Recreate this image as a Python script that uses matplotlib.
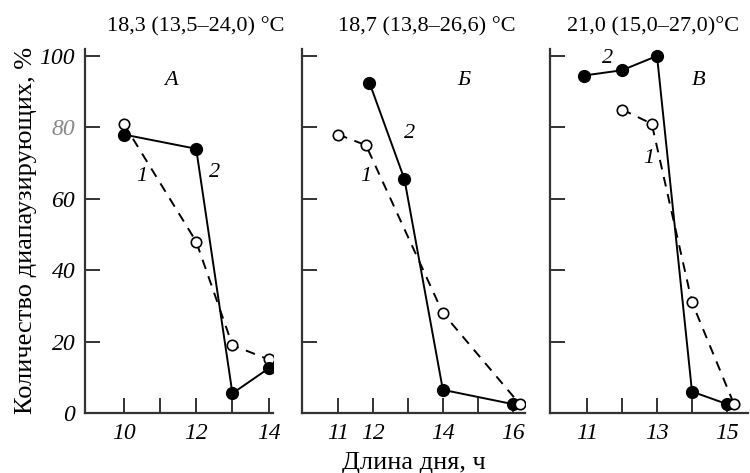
import matplotlib.pyplot as plt

plt.rcParams['font.family'] = ['Liberation Serif', 'DejaVu Serif']

# panel titles (mean and range of temperature)
titles = ['18,3 (13,5\u201324,0) \u00b0C', '18,7 (13,8\u201326,6) \u00b0C', '21,0 (15,0\u201327,0)\u00b0C']
panel_letters = ['А', 'Б', 'В']

# curve 1 (open circles, dashed)
x1_a = [10, 12, 13, 14]
y1_a = [81, 48, 19, 15]
x1_b = [11, 11.8, 14, 16.2]
y1_b = [78, 75, 28, 2.5]
x1_v = [12, 12.85, 14, 15.2]
y1_v = [85, 81, 31, 2.5]

# curve 2 (filled circles, solid)
x2_a = [10, 12, 13, 14]
y2_a = [78, 74, 5.5, 12.5]
x2_b = [11.9, 12.9, 14, 16]
y2_b = [92.5, 65.5, 6.5, 2.5]
x2_v = [10.9, 12, 13, 14, 15]
y2_v = [94.5, 96, 100, 6, 2.5]

xticks = [[10, 11, 12, 13, 14], [11, 12, 13, 14, 15, 16], [11, 12, 13, 14, 15]]
xticklabels = [['10', '', '12', '', '14'], ['11', '12', '', '14', '', '16'],
               ['11', '', '13', '', '15']]
xlims = [(8.93, 14.12), (9.97, 16.35), (9.94, 15.6)]
yticks = [0, 20, 40, 60, 80, 100]

# positions of the curve labels and panel letters (data coords)
letter_pos = [(11.3, 92), (14.6, 92), (14.2, 92)]
num1_pos = [(10.5, 65), (11.8, 65), (12.75, 70)]
num2_pos = [(12.5, 66), (13.05, 77), (11.6, 98)]
title_x = [196 / 750, 427 / 750, 653 / 750]

fig = plt.figure(figsize=(7.5, 4.73), dpi=100)
boxes = [[0.1133, 0.1268, 0.2507, 0.77],
         [0.4027, 0.1268, 0.2973, 0.77],
         [0.7333, 0.1268, 0.2640, 0.77]]

data1 = [(x1_a, y1_a), (x1_b, y1_b), (x1_v, y1_v)]
data2 = [(x2_a, y2_a), (x2_b, y2_b), (x2_v, y2_v)]

for i in range(3):
    ax = fig.add_axes(boxes[i])
    ax.plot(*data1[i], color='black', lw=1.4, dashes=(5, 4), marker='o', ms=7.5,
            mfc='white', mec='black', mew=1.2, zorder=3)
    ax.plot(*data2[i], color='black', lw=1.4, marker='o', ms=8.5,
            mfc='black', mec='black', zorder=4 if i == 0 else 2)
    ax.set_xlim(*xlims[i])
    ax.set_ylim(0, 102)
    ax.set_xticks(xticks[i])
    ax.set_xticklabels(xticklabels[i], fontstyle='italic', fontsize=17)
    ax.set_yticks(yticks)
    if i == 0:
        ax.set_yticklabels([str(v) for v in yticks], fontstyle='italic', fontsize=17)
        ax.get_yticklabels()[4].set_color('#888888')
        ax.set_ylabel('Количество диапаузирующих, %', fontsize=19, labelpad=2)
    else:
        ax.set_yticklabels([])
    if i == 1:
        ax.set_xlabel('Длина дня, ч', fontsize=19, labelpad=6)
    for s in ['top', 'right']:
        ax.spines[s].set_visible(False)
    for s in ['left', 'bottom']:
        ax.spines[s].set_linewidth(1.6)
        ax.spines[s].set_color('#333333')
    ax.tick_params(direction='in', length=11, width=1.4, color='#333333', pad=7)
    fig.text(title_x[i], 1 - 27 / 473, titles[i], fontsize=16, ha='center', va='center')
    ax.text(*letter_pos[i], panel_letters[i], fontsize=16, fontstyle='italic', ha='center')
    ax.text(*num1_pos[i], '1', fontsize=16, fontstyle='italic', ha='center')
    ax.text(*num2_pos[i], '2', fontsize=16, fontstyle='italic', ha='center')

fig.savefig('out.png', dpi=100)
